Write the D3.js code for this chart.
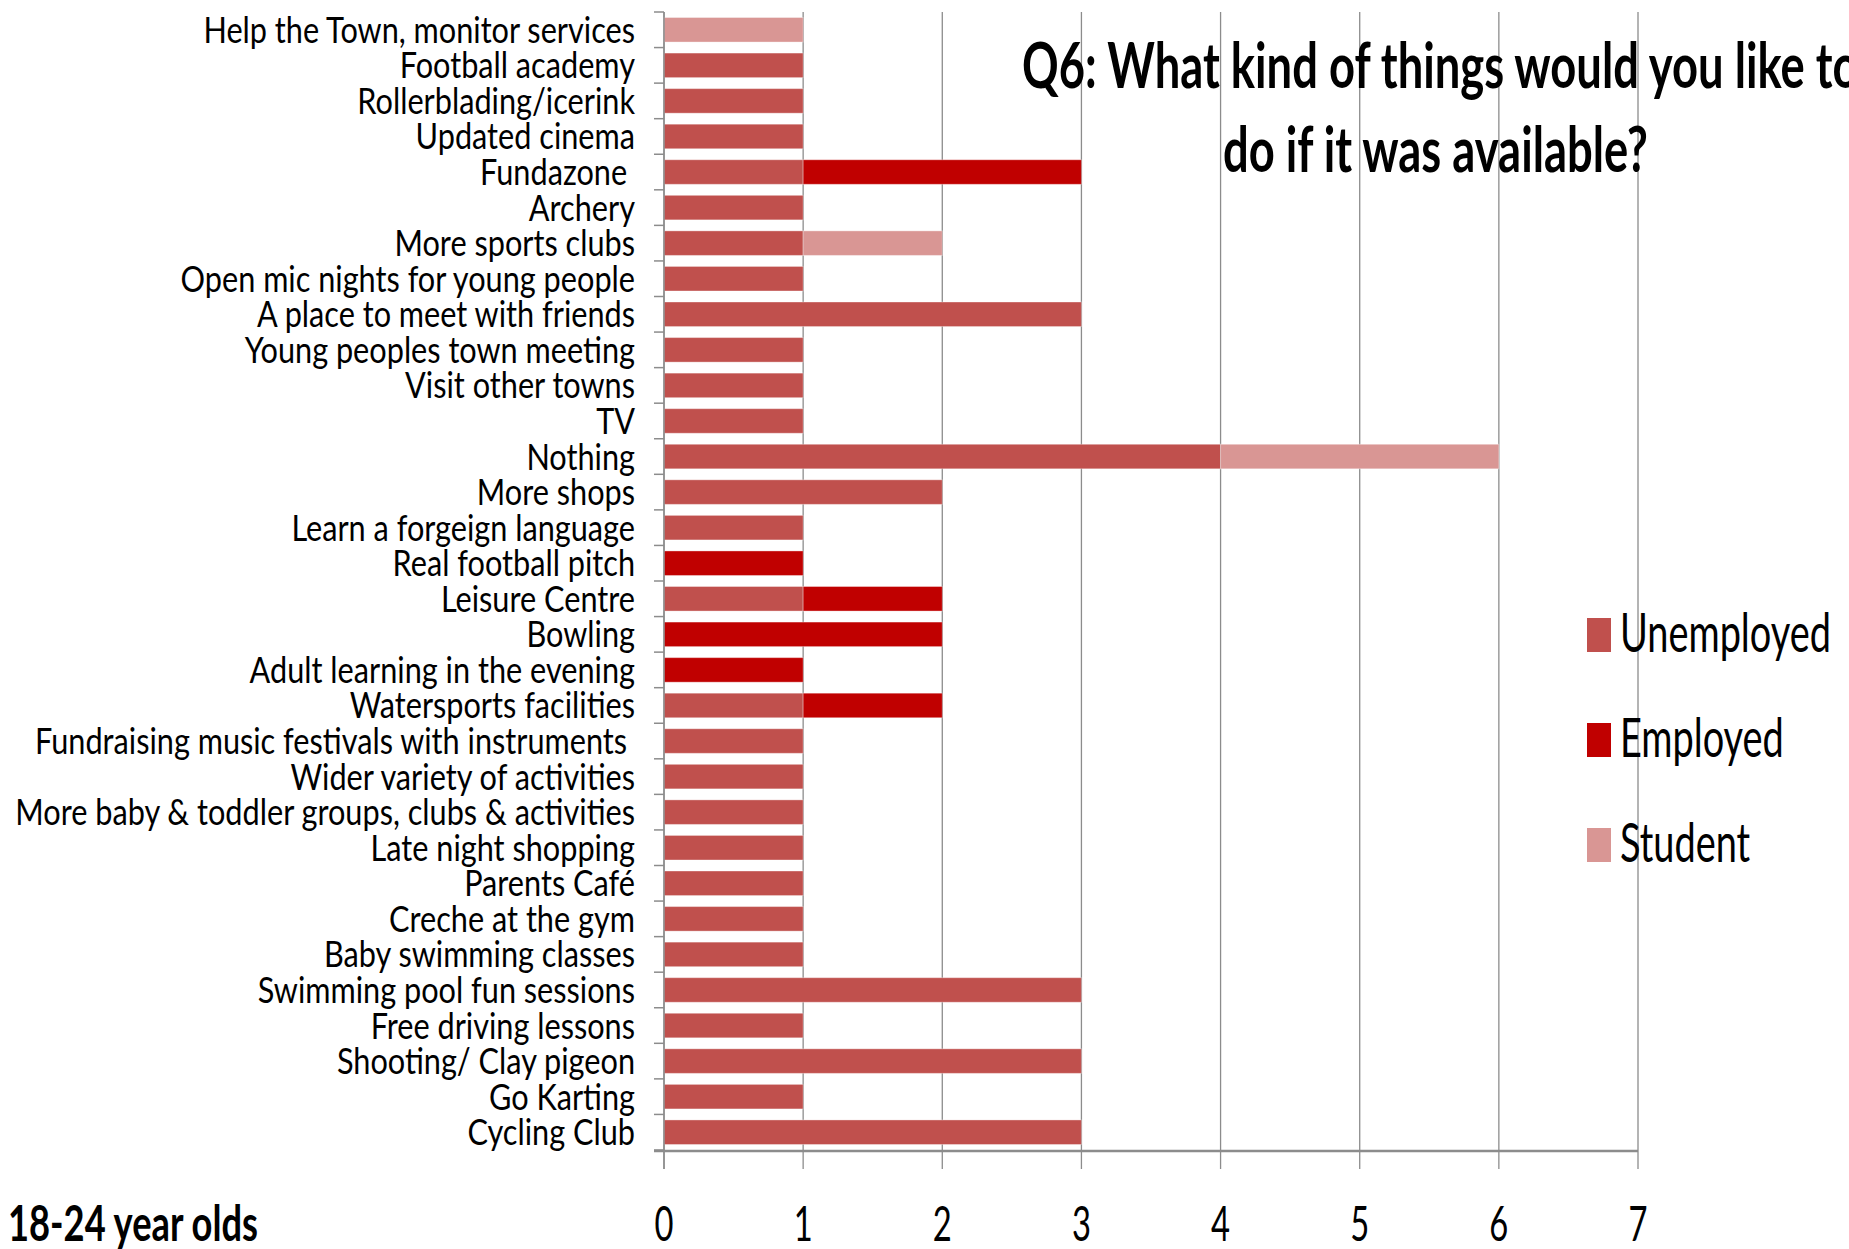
<!DOCTYPE html>
<html>
<head>
<meta charset="utf-8">
<script src="https://cdn.jsdelivr.net/npm/d3@7"></script>
<style>
  html, body { margin: 0; padding: 0; background: #fff; overflow: hidden; }
  svg { display: block; }
  text { white-space: pre; fill: #000; }
</style>
</head>
<body>
<svg id="chart" width="1849" height="1249"></svg>
<script>
// Q6 responses, 18-24 year olds, listed top to bottom
const categories = [
  "Help the Town, monitor services",
  "Football academy",
  "Rollerblading/icerink",
  "Updated cinema",
  "Fundazone ",
  "Archery",
  "More sports clubs",
  "Open mic nights for young people",
  "A place to meet with friends",
  "Young peoples town meeting",
  "Visit other towns",
  "TV",
  "Nothing",
  "More shops",
  "Learn a forgeign language",
  "Real football pitch",
  "Leisure Centre",
  "Bowling",
  "Adult learning in the evening",
  "Watersports facilities",
  "Fundraising music festivals with instruments ",
  "Wider variety of activities",
  "More baby & toddler groups, clubs & activities",
  "Late night shopping",
  "Parents Café",
  "Creche at the gym",
  "Baby swimming classes",
  "Swimming pool fun sessions",
  "Free driving lessons",
  "Shooting/ Clay pigeon",
  "Go Karting",
  "Cycling Club"
];
const unemployed = [0,1,1,1,1,1,1,1,3,1,1,1,4,2,1,0,1,0,0,1,1,1,1,1,1,1,1,3,1,3,1,3];
const employed   = [0,0,0,0,2,0,0,0,0,0,0,0,0,0,0,1,1,2,1,1,0,0,0,0,0,0,0,0,0,0,0,0];
const student    = [1,0,0,0,0,0,1,0,0,0,0,0,2,0,0,0,0,0,0,0,0,0,0,0,0,0,0,0,0,0,0,0];
const seriesNames = ["Unemployed", "Employed", "Student"];
const seriesColors = ["#C0504D", "#C00000", "#D99694"];
const xTickValues = [0, 1, 2, 3, 4, 5, 6, 7];
const titleLines = ["Q6: What kind of things would you like to", "do if it was available?"];
const groupLabel = "18-24 year olds";

const svg = d3.select("#chart");
const FONT = "Lato, 'Open Sans', 'DejaVu Sans', sans-serif";

const plot = { left: 664, right: 1638, top: 12, bottom: 1150 };

const rows = categories.map((c, i) => ({
  category: c,
  Unemployed: unemployed[i],
  Employed: employed[i],
  Student: student[i]
}));

const x = d3.scaleLinear().domain([0, 7]).range([plot.left, plot.right]);
const y = d3.scaleBand().domain(categories)
  .range([plot.top, plot.bottom])
  .paddingInner(0.31).paddingOuter(0.155);

const stacked = d3.stack().keys(seriesNames)(rows);
const color = d3.scaleOrdinal().domain(seriesNames).range(seriesColors);

// squeeze a text element horizontally to a target width
function fitWidth(node, target) {
  const w = node.getComputedTextLength();
  return w > 0 ? target / w : 1;
}

// vertical gridlines, running a little below the axis as tick marks
svg.append("g").selectAll("line")
  .data(xTickValues)
  .join("line")
  .attr("x1", d => x(d)).attr("x2", d => x(d))
  .attr("y1", plot.top).attr("y2", plot.bottom + 19)
  .attr("stroke", "#8c8c8c").attr("stroke-width", 1.3);

// stacked bars
svg.append("g").selectAll("g")
  .data(stacked)
  .join("g")
  .attr("fill", d => color(d.key))
  .selectAll("rect")
  .data(d => d.filter(s => s[1] - s[0] > 0))
  .join("rect")
  .attr("x", d => x(d[0]))
  .attr("width", d => x(d[1]) - x(d[0]))
  .attr("y", d => y(d.data.category))
  .attr("height", y.bandwidth())
  .attr("stroke", "rgba(255,255,255,0.35)")
  .attr("stroke-width", 1);

// category axis with ticks at band boundaries
const step = y.step();
const firstEdge = y(categories[0]) - step * y.paddingInner() / 2;
const edges = d3.range(categories.length + 1).map(i => firstEdge + i * step);
svg.append("g").selectAll("line")
  .data(edges)
  .join("line")
  .attr("x1", plot.left - 10).attr("x2", plot.left)
  .attr("y1", d => d).attr("y2", d => d)
  .attr("stroke", "#8c8c8c").attr("stroke-width", 1.5);
svg.append("line")
  .attr("x1", plot.left).attr("x2", plot.left)
  .attr("y1", plot.top).attr("y2", plot.bottom + 19)
  .attr("stroke", "#8c8c8c").attr("stroke-width", 1.5);
svg.append("line")
  .attr("x1", plot.left - 10).attr("x2", plot.right)
  .attr("y1", plot.bottom + 1).attr("y2", plot.bottom + 1)
  .attr("stroke", "#8c8c8c").attr("stroke-width", 2.5);

// category labels
const catFont = 37;
const catLabels = svg.append("g")
  .attr("font-family", FONT).attr("font-size", catFont)
  .attr("text-anchor", "end")
  .selectAll("text")
  .data(categories)
  .join("text")
  .text(d => d);
const refNode = catLabels.filter(d => d.startsWith("More baby")).node();
const catScale = fitWidth(refNode, 620);
catLabels.attr("transform", d =>
  `translate(${plot.left - 29},${y(d) + y.bandwidth() / 2 + 13}) scale(${catScale},1)`);

// value axis labels
const tickLabels = svg.append("g")
  .attr("font-family", FONT).attr("font-size", 49)
  .attr("text-anchor", "middle")
  .selectAll("text")
  .data(xTickValues)
  .join("text")
  .text(d => d3.format("d")(d));
const tickScale = fitWidth(tickLabels.filter(d => d === 0).node(), 19);
tickLabels.attr("transform", d => `translate(${x(d)},1241) scale(${tickScale},1)`);

// title
const title = svg.append("g")
  .attr("font-family", FONT).attr("font-size", 63).attr("font-weight", "bold");
const t2 = title.append("text").text(titleLines[1]);
const titleScale = fitWidth(t2.node(), 425);
t2.attr("transform", `translate(1223,172) scale(${titleScale},1)`);
title.append("text").text(titleLines[0])
  .attr("transform", `translate(1022,88) scale(${titleScale},1)`);

// legend
const legend = svg.append("g").attr("font-family", FONT).attr("font-size", 54);
const legendRows = legend.selectAll("g")
  .data(seriesNames)
  .join("g")
  .attr("transform", (d, i) => `translate(1587,${652 + i * 105})`);
legendRows.append("rect")
  .attr("x", 0).attr("y", -34).attr("width", 24).attr("height", 34)
  .attr("fill", d => color(d));
const legendText = legendRows.append("text").text(d => d);
const legendScale = fitWidth(legendText.filter(d => d === "Unemployed").node(), 211);
legendText.attr("transform", `translate(33,0) scale(${legendScale},1)`);

// age group caption
const cap = svg.append("text")
  .attr("font-family", FONT).attr("font-size", 49).attr("font-weight", "bold")
  .text(groupLabel);
const capScale = fitWidth(cap.node(), 250);
cap.attr("transform", `translate(8,1241) scale(${capScale},1)`);
</script>
</body>
</html>
